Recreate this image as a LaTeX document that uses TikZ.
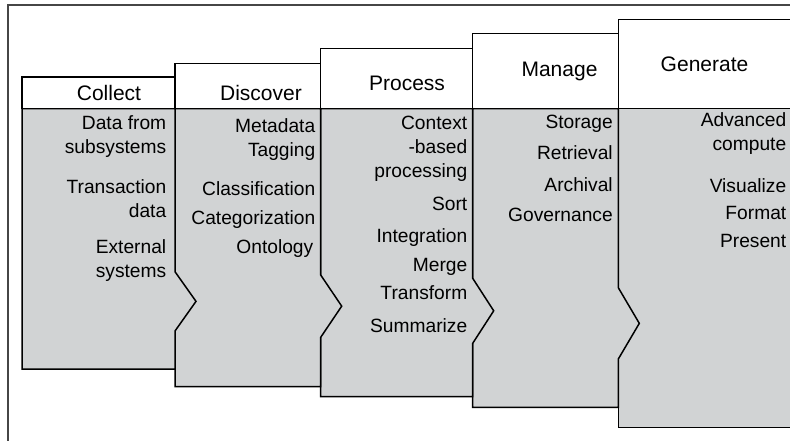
\documentclass[tikz,border=0pt]{standalone}
\usepackage{fontspec}
\setmainfont{Liberation Sans}
\usepackage{tikz}
\definecolor{stagegray}{RGB}{209,211,212}
\definecolor{framegray}{RGB}{70,70,70}
\tikzset{
    stagehead/.style={anchor=base,inner sep=0pt,font=\fontsize{10.5}{12}\selectfont},
    stageitem/.style={anchor=base east,inner sep=0pt,align=right,font=\fontsize{9.6}{12}\selectfont}
}
\newcommand{\stage}[9]{%
    \node (p1) at (#1,108.5){};
    \node (p2) at (#2,108.5){};
    \node (p3) at (#2,#5){};
    \node (p4) at (#2+21,#5/2+#6/2){};
    \node (p5) at (#2,#6){};
    \node (p6) at (#2,#4){};
    \node (p7) at (#1,#4){};
    \draw[color=black,fill=stagegray] (p1.center) -- (p2.center) -- (p3.center) -- (p4.center) -- (p5.center) -- (p6.center) -- (p7.center) -- (p1.center);
    \draw[color=black,fill=white] (#1,#3) rectangle (#2,108.5);
    \node[stagehead] (head#9) at (#7,#8){#9};
}
\begin{document}
\begin{tikzpicture}[x=0.5pt,y=-0.5pt,line width=0.75pt]
        \useasboundingbox (0,0) rectangle (790,440);
        \draw[framegray] (8,450) -- (8,5) -- (800,5);
        % #1-left x  #2-right x  #3-top y  #4-bottom y  #5-notch top y  #6-notch bottom y  #7-title x  #8-title y  #9-title
        \stage{618.3}{795}{19.3}{427.3}{300}{300}{704.5}{71.7}{Generate}
        \stage{472.7}{618.3}{33.3}{407.3}{287.7}{359}{559.5}{76.7}{Manage}
        \stage{320.7}{472.7}{48.3}{396.7}{278.3}{343.3}{407}{90.7}{Process}
        \stage{175}{320.7}{63.3}{386.7}{275}{337.3}{261}{100}{Discover}
        \stage{22}{175}{77}{369}{271.7}{331}{109}{100}{Collect}
        % Collect (y = baseline of last line)
        \node[stageitem] (col1) at (167,153) {Data from\\subsystems};
        \node[stageitem] (col2) at (167,217) {Transaction\\data};
        \node[stageitem] (col3) at (167,277) {External\\systems};
        % Discover
        \node[stageitem] (dis1) at (316,156) {Metadata\\Tagging};
        \node[stageitem] (dis2) at (316,195.5) {Classification};
        \node[stageitem] (dis3) at (316,224.5) {Categorization};
        \node[stageitem] (dis4) at (314,253) {Ontology};
        % Process
        \node[stageitem] (pro1) at (468,177.5) {Context\\-based\\processing};
        \node[stageitem] (pro2) at (468,210) {Sort};
        \node[stageitem] (pro3) at (468,242) {Integration};
        \node[stageitem] (pro4) at (468,271.5) {Merge};
        \node[stageitem] (pro5) at (468,299) {Transform};
        \node[stageitem] (pro6) at (468,332) {Summarize};
        % Manage
        \node[stageitem] (man1) at (613.5,128.5) {Storage};
        \node[stageitem] (man2) at (613.5,159.3) {Retrieval};
        \node[stageitem] (man3) at (613.5,191.7) {Archival};
        \node[stageitem] (man4) at (613.5,221) {Governance};
        % Generate
        \node[stageitem] (gen1) at (787,150.7) {Advanced\\compute};
        \node[stageitem] (gen2) at (787,192) {Visualize};
        \node[stageitem] (gen3) at (787,219) {Format};
        \node[stageitem] (gen4) at (787,247) {Present};
    \end{tikzpicture}
\end{document}
